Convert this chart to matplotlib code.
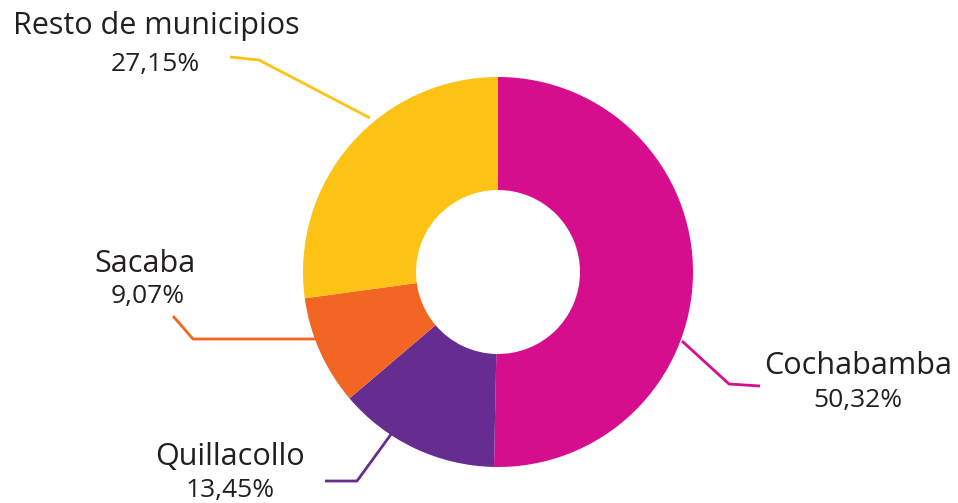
import matplotlib.pyplot as plt

categories = ["Cochabamba", "Quillacollo", "Sacaba", "Resto de municipios"]
values = [50.32, 13.45, 9.07, 27.15]
pct_labels = ["50,32%", "13,45%", "9,07%", "27,15%"]
colors = ["#D60D8C", "#662D91", "#F26522", "#FDC314"]

W, H = 958, 503
plt.rcParams['font.family'] = ['Open Sans', 'DejaVu Sans']
fig = plt.figure(figsize=(W / 100, H / 100), dpi=100)
ax = fig.add_axes([0, 0, 1, 1])

cx, cy_px, R, r = 498, 272, 195, 82
cy = H - cy_px
ax.pie(values, colors=colors, startangle=90, counterclock=False,
       center=(cx, cy), radius=R, frame=True,
       wedgeprops=dict(width=R - r, linewidth=0))
ax.set_xlim(0, W)
ax.set_ylim(0, H)
ax.set_aspect('equal')
ax.axis('off')

# leader lines (pixel coordinates, y from top)
leaders = [
    [(682, 341), (729, 384), (760, 386)],
    [(392, 433), (357, 481), (325, 481)],
    [(316, 339), (193, 339), (173, 316)],
    [(370, 118), (259, 60), (230, 57)],
]
for pts, c in zip(leaders, colors):
    xs = [p[0] for p in pts]
    ys = [H - p[1] for p in pts]
    ax.plot(xs, ys, color=c, lw=2, solid_capstyle='butt')

txt = "#231F20"
name_pos = [(858, 366), (230, 457), (145, 264), (156, 26)]
pct_pos = [(858, 401), (230, 490), (148, 296), (155, 64)]
for cat, p, npos, ppos in zip(categories, pct_labels, name_pos, pct_pos):
    ax.text(npos[0], H - npos[1], cat, ha='center', va='center',
            fontsize=22, color=txt, fontweight='normal')
    ax.text(ppos[0], H - ppos[1], p, ha='center', va='center',
            fontsize=19, color=txt, fontweight='normal')

fig.savefig("out.png", dpi=100)
